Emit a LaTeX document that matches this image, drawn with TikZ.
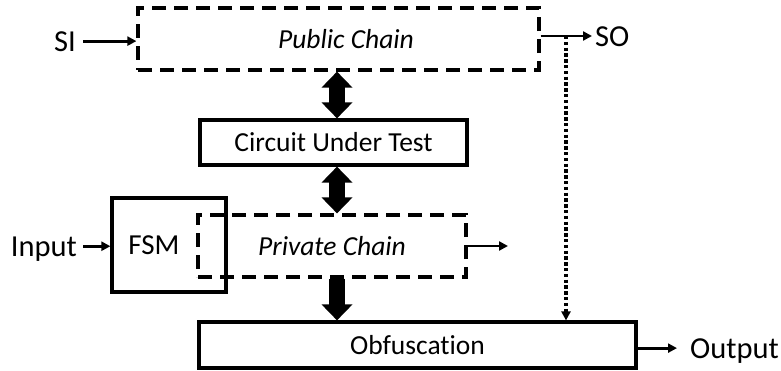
\documentclass[tikz,border=0pt]{standalone}
\usepackage{fontspec}
\setmainfont{Carlito}[Ligatures=NoCommon]
\usetikzlibrary{arrows.meta,positioning}

\begin{document}
\begin{tikzpicture}[
    x=1pt, y=-1pt,
    font=\fontsize{27.5}{32}\selectfont,
    solid-box/.style={
      draw,
      line width=3.2pt,
      inner sep=0pt
    },
    chain-box/.style={
      draw,
      line width=3.2pt,
      dash pattern=on 14pt off 8pt,
      inner sep=0pt,
      font=\fontsize{27.5}{32}\selectfont\itshape
    },
    lbl/.style={inner sep=0pt, text depth=0pt, font=\fontsize{30.5}{36}\selectfont},
    thin-arrow/.style={-{Triangle[length=9pt,width=9pt]}, line width=2.8pt},
    dot-arrow/.style={-{Triangle[length=9pt,width=9pt]}, line width=3.4pt,
      dash pattern=on 3.4pt off 2.4pt},
    block-arrow/.style={-{Triangle[length=16pt,width=30pt]}, line width=16pt},
    block-both/.style={{Triangle[length=16pt,width=30pt]}-{Triangle[length=16pt,width=30pt]},
      line width=16pt}
  ]
    \useasboundingbox (0,0) rectangle (781,370);

    % chains, circuit and obfuscation blocks
    \node[chain-box, minimum width=401pt, minimum height=62pt] (pub) at (338.5,39)
      {\hspace*{15pt}Public Chain};
    \node[solid-box, minimum width=267pt, minimum height=45pt] (cut) at (333.5,142.5)
      {Circuit Under Test};
    \node[solid-box, minimum width=114pt, minimum height=94pt] (fsm) at (169,245)
      {\fontsize{29}{34}\selectfont FSM\hspace*{30pt}};
    \node[chain-box, minimum width=268pt, minimum height=62pt] (priv) at (332,246)
      {Private Chain};
    \node[solid-box, minimum width=437pt, minimum height=46pt] (obf) at (417.5,345)
      {Obfuscation};

    % port labels
    \node[lbl, anchor=base east] (si) at (76,51) {SI};
    \node[lbl, anchor=base west] (so) at (595,46) {SO};
    \node[lbl, anchor=base east] (input) at (77,256) {Input};
    \node[lbl, anchor=base west] (output) at (690,358) {Output};

    \coordinate (axis) at (337,0);
    \coordinate (tap) at (566,36);
    \coordinate (priv-out) at (508,246);

    % data flow
    \draw[block-both] (pub.south -| axis) -- (cut.north -| axis);
    \draw[block-both] (cut.south -| axis) -- (priv.north -| axis);
    \draw[block-arrow] (priv.south -| axis) -- (obf.north -| axis);

    \draw[thin-arrow] ([xshift=7pt]si.east) -- (si.east -| pub.west);
    \draw[thin-arrow] (pub.east |- tap) -- ([xshift=-3pt]so.west |- tap);
    \draw[dot-arrow] (tap) -- (tap |- obf.north);
    \draw[thin-arrow] ([xshift=6pt]input.east) -- (input.east -| fsm.west);
    \draw[thin-arrow] (priv.east) -- (priv-out);
    \draw[thin-arrow] (obf.east |- output.west) -- ([xshift=-13pt]output.west);
  \end{tikzpicture}
\end{document}
